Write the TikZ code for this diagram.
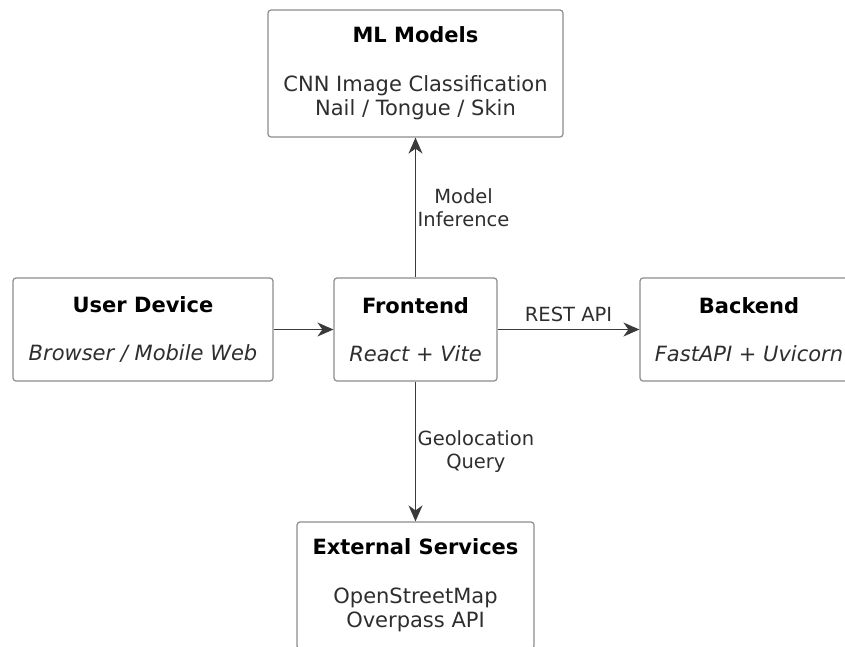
\documentclass[tikz,border=0pt]{standalone}
\usepackage{fontspec}
\setmainfont{DejaVu Sans}
\usetikzlibrary{arrows.meta}
\definecolor{boxgray}{HTML}{8C8C8C}
\definecolor{linegray}{HTML}{3A3A3A}
\definecolor{ink}{HTML}{2E2E2E}
\newcommand{\boxtitle}[1]{\textcolor{black}{\textbf{#1}}}

\begin{document}
\begin{tikzpicture}[x=1pt,y=-1pt,>={Stealth[length=16pt,width=14pt,inset=5pt]},
    box/.style={draw=boxgray,line width=1.2pt,rounded corners=3pt,fill=white,
        align=center,text=ink,inner sep=0pt,font=\fontsize{21}{24}\selectfont},
    flow/.style={->,draw=linegray,line width=1.4pt},
    lbl/.style={text=ink,align=center,inner sep=1.5pt,font=\fontsize{19.5}{23}\selectfont}]
\useasboundingbox (0,0) rectangle (845,646);
\clip (0,0) rectangle (845,646);
% boxes
\node[box,minimum width=295pt,minimum height=127pt] (ml) at (415.5,73.5)
    {\boxtitle{ML Models}\\[25pt]CNN Image Classification\\Nail / Tongue / Skin};
\node[box,minimum width=260pt,minimum height=103pt] (user) at (143,329.5)
    {\boxtitle{User Device}\\[24pt]\itshape Browser / Mobile Web};
\node[box,minimum width=163pt,minimum height=103pt] (front) at (415.5,329.5)
    {\boxtitle{Frontend}\\[24pt]\itshape React + Vite};
\node[box,minimum width=218pt,minimum height=103pt] (back) at (749,329.5)
    {\boxtitle{Backend}\\[24pt]\itshape FastAPI + Uvicorn};
\node[box,minimum width=237pt,minimum height=127pt] (ext) at (415.5,585.5)
    {\boxtitle{External Services}\\[25pt]OpenStreetMap\\Overpass API};
% arrows
\draw[flow] (user) -- (front);
\draw[flow] (front) -- node[lbl,above=5.5pt]{REST API} (back);
\draw[flow] (front) -- node[lbl,right]{Model\\Inference} (ml);
\draw[flow] (front) -- node[lbl,right]{Geolocation\\Query} (ext);
\end{tikzpicture}
\end{document}
